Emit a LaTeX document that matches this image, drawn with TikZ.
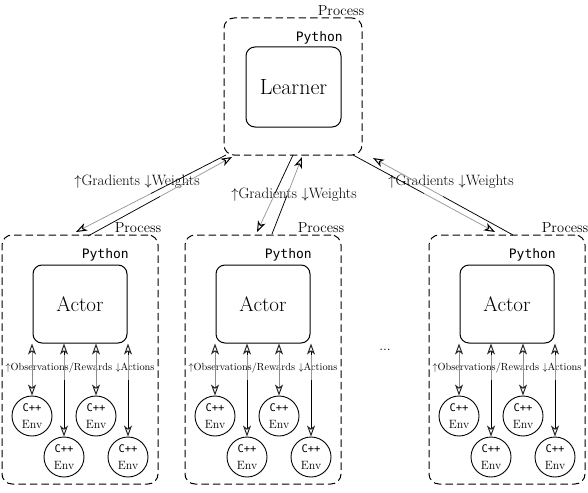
\documentclass[tikz,border=0pt]{standalone}
\usepackage{fontspec}
\setmonofont{DejaVu Sans Mono}
\usetikzlibrary{arrows.meta,calc}
\begin{document}
\begin{tikzpicture}[x=1pt,y=-1pt,
  proc/.style={draw=black, dash pattern=on 7.5pt off 4pt, rounded corners=10pt, line width=1pt, minimum width=156pt, minimum height=249pt, inner sep=0pt},
  lproc/.style={proc, minimum width=138pt, minimum height=137pt},
  mainbox/.style={draw, rounded corners=9pt, line width=1pt, minimum width=94pt, minimum height=78pt, inner sep=0pt, font=\fontsize{21}{24}\selectfont},
  envnode/.style={draw, circle, minimum size=40pt, line width=0.9pt, inner sep=0pt, align=center, font=\fontsize{12}{17}\selectfont},
  proclabel/.style={anchor=south east, inner sep=0pt, font=\fontsize{14.5}{16}\selectfont},
  pylabel/.style={anchor=base east, inner sep=0pt, font=\ttfamily\fontsize{13}{16}\selectfont},
  gradlabel/.style={inner sep=0pt, font=\fontsize{15}{17}\selectfont},
  obslabel/.style={inner sep=0pt, font=\fontsize{10.3}{12}\selectfont},
  tip/.style={-{Stealth[open,length=11pt,width=8pt,inset=3pt,color=black,line width=1pt]}},
  dtip/.style={{Stealth[open,length=11pt,width=8pt,inset=3pt,color=black!85,line width=1pt]}-{Stealth[open,length=11pt,width=8pt,inset=3pt,color=black!85,line width=1pt]}},
  halfline/.style={line width=0.75pt}
]
\useasboundingbox (0,0) rectangle (588,492);

% Learner
\node[lproc] (lp) at (293,86.5) {};
\node[proclabel] (lpl) at ([xshift=2pt,yshift=2pt]lp.north east) {Process};
\node[mainbox, minimum width=95pt, minimum height=80pt, font=\fontsize{22}{24}\selectfont] (learner) at (293.5,87) {Learner};
\node[pylabel] (lpy) at ([xshift=1.5pt,yshift=5pt]learner.north east) {Python};

% Actor processes
\foreach \i/\cx in {1/80,2/263,3/507}{
  \node[proc] (p\i) at (\cx,359.5) {};
  \node[proclabel] (pl\i) at ([xshift=3pt,yshift=2pt]p\i.north east) {Process};
  \node[mainbox] (a\i) at (\cx,304) {Actor};
  \node[pylabel] (py\i) at ([xshift=1.5pt,yshift=6pt]a\i.north east) {Python};
  \node[envnode] (e\i a) at (\cx-48,416) {{\ttfamily\fontsize{10.5}{12}\selectfont C++}\\Env};
  \node[envnode] (e\i b) at (\cx-16,457) {{\ttfamily\fontsize{10.5}{12}\selectfont C++}\\Env};
  \node[envnode] (e\i c) at (\cx+16,416) {{\ttfamily\fontsize{10.5}{12}\selectfont C++}\\Env};
  \node[envnode] (e\i d) at (\cx+48,457) {{\ttfamily\fontsize{10.5}{12}\selectfont C++}\\Env};
  \node[obslabel] (ol\i) at (\cx,368) {$\uparrow$Observations/Rewards $\downarrow$Actions};
  % short connections (gray)
  \foreach \e in {a,c}{
    \draw[dtip, halfline, black!45] (a\i.south -| e\i\e.north) -- (e\i\e.north);
  }
  % long connections (gray upper, black lower)
  \foreach \e in {b,d}{
    \coordinate (m\i\e) at ($(a\i.south -| e\i\e.north)+(0,36)$);
    \draw[dtip, halfline, black] (a\i.south -| e\i\e.north) -- (e\i\e.north);
    \draw[halfline, black!40] ($(a\i.south -| e\i\e.north)+(0,11)$) -- (m\i\e);
  }
}

\node[font=\fontsize{14}{16}\selectfont] (dots) at (385,350) {...};

% Gradient labels
\node[gradlabel] (g1) at (137,182) {$\uparrow$Gradients $\downarrow$Weights};
\node[gradlabel] (g2) at (294,195) {$\uparrow$Gradients $\downarrow$Weights};
\node[gradlabel] (g3) at (451,182) {$\uparrow$Gradients $\downarrow$Weights};

% Learner-actor connector end points
\coordinate (u1t) at (88,236);  \coordinate (u1h) at (232,157);
\coordinate (d1t) at (226,155); \coordinate (d1h) at (76,232);
\coordinate (u2t) at (272,234); \coordinate (u2h) at (302,157);
\coordinate (d2t) at (293,155); \coordinate (d2h) at (257,232);
\coordinate (u3t) at (513,235); \coordinate (u3h) at (373,158);
\coordinate (d3t) at (353,155); \coordinate (d3h) at (495,232);

\foreach \k in {1,2,3}{
  \foreach \d in {u,d}{
    \draw[halfline, black] (\d\k t) -- ($(\d\k t)!0.5!(\d\k h)$);
    \draw[halfline, black!40, tip] ($(\d\k t)!0.5!(\d\k h)$) -- (\d\k h);
  }
}
\end{tikzpicture}
\end{document}
